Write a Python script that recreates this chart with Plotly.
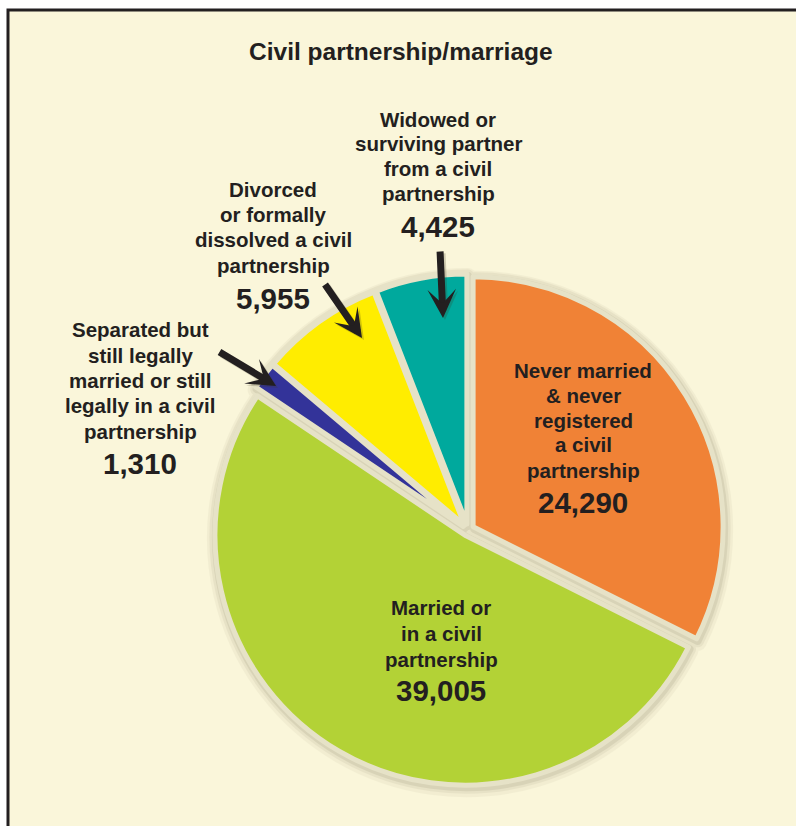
import plotly.graph_objects as go

# ---- data -------------------------------------------------------------
categories = [
    "Never married & never registered a civil partnership",
    "Married or in a civil partnership",
    "Separated but still legally married or still legally in a civil partnership",
    "Divorced or formally dissolved a civil partnership",
    "Widowed or surviving partner from a civil partnership",
]
counts = [24290, 39005, 1310, 5955, 4425]
label_lines = [
    ["Never married", "& never", "registered", "a civil", "partnership"],
    ["Married or", "in a civil", "partnership"],
    ["Separated but", "still legally", "married or still", "legally in a civil", "partnership"],
    ["Divorced", "or formally", "dissolved a civil", "partnership"],
    ["Widowed or", "surviving partner", "from a civil", "partnership"],
]
slice_colors = ["#F08236", "#B3D236", "#333399", "#FFED00", "#00A99D"]
title_text = "Civil partnership/marriage"

# ---- layout constants (pixels) ---------------------------------------
W, H = 796, 826
CREAM = "#FAF6DA"
INK = "#231F20"
FONT = "Liberation Sans, Arial, Helvetica, sans-serif"

cx, cy, R = 468, 530, 250
pulls = [0.024, 0.024, 0.024, 0.024, 0.024]
half = R * (1 + max(pulls))


def px(x):
    return x / W


def py(y):
    return 1 - y / H


def pie_domain(dx=0, dy=0):
    return dict(
        x=[px(cx - half + dx), px(cx + half + dx)],
        y=[py(cy + half + dy), py(cy - half + dy)],
    )


fig = go.Figure()

# soft shadow behind the slices, built from a few faint layers
for width, alpha, shift in [(18, 0.07, 3), (13, 0.10, 2), (8, 0.16, 2)]:
    fig.add_trace(go.Pie(
        values=counts, labels=categories, sort=False, direction="clockwise",
        rotation=0, pull=pulls, textinfo="none", hoverinfo="skip",
        marker=dict(colors=["#8F8A6C"] * len(counts),
                    line=dict(color="#8F8A6C", width=width)),
        opacity=alpha, showlegend=False, domain=pie_domain(1, shift),
    ))

# main pie
fig.add_trace(go.Pie(
    values=counts, labels=categories, sort=False, direction="clockwise",
    rotation=0, pull=pulls, textinfo="none", hoverinfo="label+value",
    marker=dict(colors=slice_colors, line=dict(color="#E6E2C7", width=5)),
    showlegend=False, domain=pie_domain(),
))

# ---- labels ------------------------------------------------------------
# (centre x, first line centre y, number centre y, line step)
label_pos = [
    (583, 370, 502, 25),
    (441, 607, 690, 26),
    (140, 330, 463, 25.3),
    (273, 190, 298, 25),
    (438, 119, 227, 24.7),
]
# arrows: (tail x, tail y, tip x, tip y) for the outside labels
arrow_pos = {
    2: (218, 351, 276, 386),
    3: (324, 283, 362, 338),
    4: (440, 250, 443, 318),
}

annotations = [
    dict(text="<b>%s</b>" % title_text, x=px(401), y=py(52), xref="paper",
         yref="paper", showarrow=False, xanchor="center", yanchor="middle",
         font=dict(family=FONT, size=24.5, color=INK)),
]

for i, lines in enumerate(label_lines):
    lx, ly, ny, step = label_pos[i]
    for k, line in enumerate(lines):
        annotations.append(dict(
            text="<b>%s</b>" % line, x=px(lx), y=py(ly + k * step),
            xref="paper", yref="paper", showarrow=False,
            xanchor="center", yanchor="middle",
            font=dict(family=FONT, size=20.5, color=INK)))
    annotations.append(dict(
        text="<b>{:,}</b>".format(counts[i]), x=px(lx), y=py(ny),
        xref="paper", yref="paper", showarrow=False,
        xanchor="center", yanchor="middle",
        font=dict(family=FONT, size=29.5, color=INK)))

for i, (tx, ty, hx, hy) in arrow_pos.items():
    for col, off in [("rgba(60,55,30,0.22)", 2), (INK, 0)]:
        annotations.append(dict(
            text="", x=px(hx + off), y=py(hy + off), xref="paper", yref="paper",
            ax=tx - hx, ay=ty - hy, axref="pixel", ayref="pixel",
            showarrow=True, arrowhead=3, arrowwidth=7, arrowsize=0.68,
            arrowcolor=col, standoff=0, startstandoff=0))

fig.update_layout(
    width=W, height=H,
    margin=dict(l=0, r=0, t=0, b=0, pad=0),
    paper_bgcolor="white", plot_bgcolor="white",
    showlegend=False,
    annotations=annotations,
    shapes=[dict(type="rect", xref="paper", yref="paper",
                 x0=px(8), x1=1.05, y0=-0.05, y1=py(10),
                 line=dict(color=INK, width=3), fillcolor=CREAM, layer="below")],
)

fig.write_html("out.html")
